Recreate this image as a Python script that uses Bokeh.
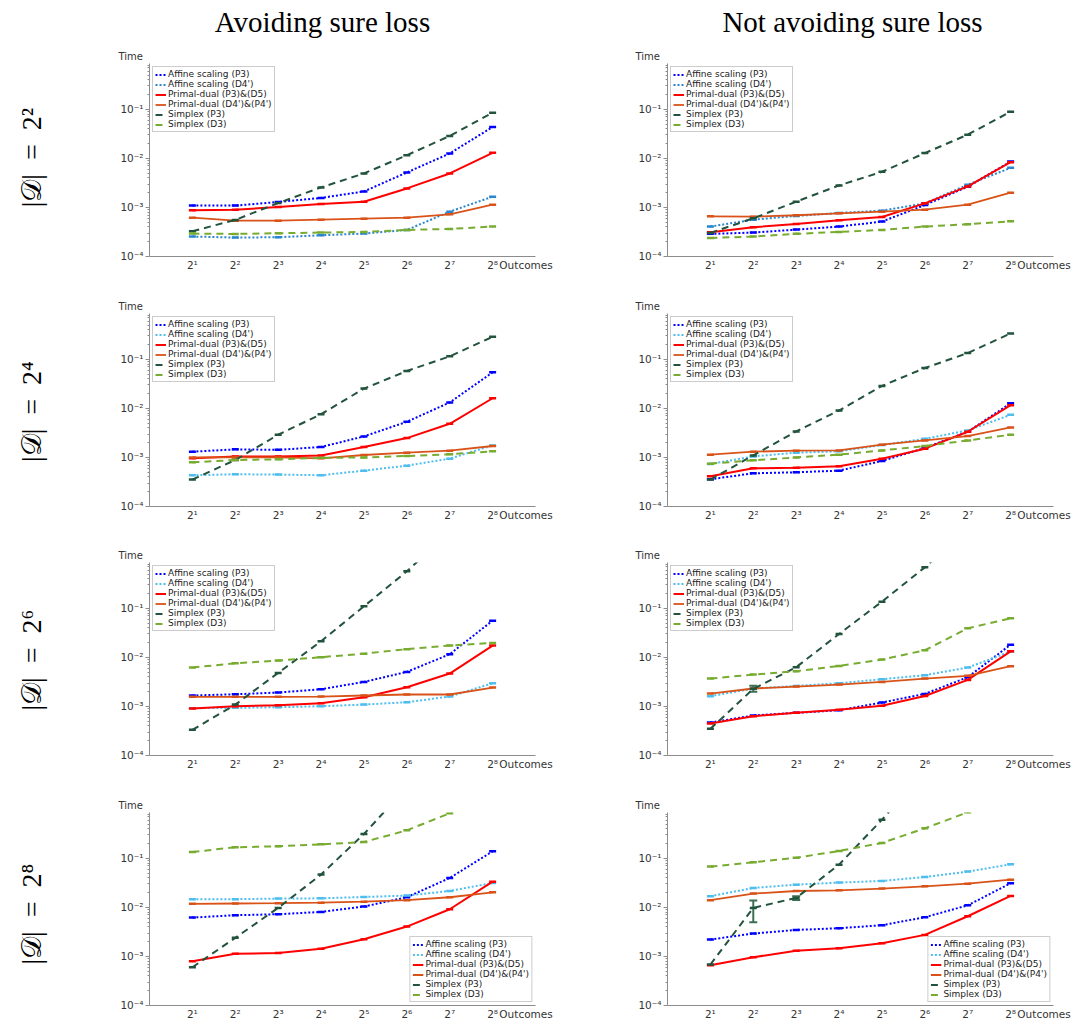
import math
from bokeh.plotting import figure
from bokeh.layouts import column, row
from bokeh.models import (FixedTicker, Legend, LegendItem, Range1d, Title,
                          ColumnDataSource, Whisker, TeeHead)
from bokeh.core.properties import value
from bokeh.embed import file_html
from bokeh.resources import INLINE

# ---------------- data ----------------
outcomes = [2, 4, 8, 16, 32, 64, 128, 256]
x_tick_labels = ["2¹", "2²", "2³", "2⁴", "2⁵", "2⁶", "2⁷", "2⁸"]
x_axis_name = "Outcomes"
y_axis_name = "Time"
y_ticks = [1e-4, 1e-3, 1e-2, 1e-1]
y_tick_labels = ["10⁻⁴", "10⁻³", "10⁻²", "10⁻¹"]
series_names = ["Affine scaling (P3)", "Affine scaling (D4')", "Primal-dual (P3)&(D5)",
                "Primal-dual (D4')&(P4')", "Simplex (P3)", "Simplex (D3)"]
col_titles = ["Avoiding sure loss", "Not avoiding sure loss"]
row_labels = ["|𝒟|\u2002=\u20022²", "|𝒟|\u2002=\u20022⁴", "|𝒟|\u2002=\u20022⁶", "|𝒟|\u2002=\u20022⁸"]

# Avoiding sure loss, |D| = 2^2
a2_aff_p3 = [1.09e-3, 1.09e-3, 1.29e-3, 1.56e-3, 2.12e-3, 5.16e-3, 1.26e-2, 4.36e-2]
a2_aff_d4 = [2.55e-4, 2.43e-4, 2.47e-4, 2.71e-4, 2.93e-4, 3.48e-4, 8.2e-4, 1.66e-3]
a2_pd_p3 = [8.73e-4, 9.0e-4, 1.02e-3, 1.17e-3, 1.31e-3, 2.44e-3, 4.93e-3, 1.30e-2]
a2_pd_d4 = [6.19e-4, 5.38e-4, 5.38e-4, 5.64e-4, 5.91e-4, 6.19e-4, 7.24e-4, 1.14e-3]
a2_sx_p3 = [3.27e-4, 5.56e-4, 1.23e-3, 2.56e-3, 4.93e-3, 1.16e-2, 2.87e-2, 8.55e-2]
a2_sx_d3 = [2.93e-4, 2.88e-4, 2.98e-4, 3.07e-4, 3.17e-4, 3.48e-4, 3.65e-4, 4.07e-4]

# Not avoiding sure loss, |D| = 2^2
n2_aff_p3 = [2.89e-4, 3.07e-4, 3.53e-4, 4.07e-4, 5.14e-4, 1.12e-3, 2.64e-3, 8.64e-3]
n2_aff_d4 = [4.07e-4, 5.64e-4, 6.7e-4, 7.71e-4, 8.6e-4, 1.21e-3, 2.9e-3, 6.42e-3]
n2_pd_p3 = [3.12e-4, 3.94e-4, 4.61e-4, 5.47e-4, 6.4e-4, 1.21e-3, 2.68e-3, 8.37e-3]
n2_pd_d4 = [6.59e-4, 6.48e-4, 6.92e-4, 7.59e-4, 8.2e-4, 9.0e-4, 1.14e-3, 2.0e-3]
n2_sx_p3 = [3.02e-4, 6.0e-4, 1.31e-3, 2.81e-3, 5.33e-3, 1.28e-2, 3.05e-2, 8.95e-2]
n2_sx_d3 = [2.39e-4, 2.55e-4, 2.89e-4, 3.17e-4, 3.48e-4, 4.07e-4, 4.54e-4, 5.22e-4]

# Avoiding sure loss, |D| = 2^4
a4_aff_p3 = [1.31e-3, 1.46e-3, 1.43e-3, 1.63e-3, 2.68e-3, 5.33e-3, 1.32e-2, 5.43e-2]
a4_aff_d4 = [4.33e-4, 4.54e-4, 4.47e-4, 4.33e-4, 5.38e-4, 6.8e-4, 9.44e-4, 1.76e-3]
a4_pd_p3 = [9.59e-4, 1.04e-3, 1.04e-3, 1.10e-3, 1.63e-3, 2.48e-3, 4.85e-3, 1.61e-2]
a4_pd_d4 = [1.0e-3, 1.0e-3, 1.0e-3, 9.6e-4, 1.12e-3, 1.25e-3, 1.37e-3, 1.71e-3]
a4_sx_p3 = [3.53e-4, 8.87e-4, 2.9e-3, 7.62e-3, 2.53e-2, 5.78e-2, 1.15e-1, 2.88e-1]
a4_sx_d3 = [7.94e-4, 8.87e-4, 9.15e-4, 9.8e-4, 1.0e-3, 1.07e-3, 1.16e-3, 1.33e-3]

# Not avoiding sure loss, |D| = 2^4
n4_aff_p3 = [3.59e-4, 4.75e-4, 4.98e-4, 5.38e-4, 8.47e-4, 1.56e-3, 3.34e-3, 1.27e-2]
n4_aff_d4 = [7.35e-4, 1.05e-3, 1.25e-3, 1.33e-3, 1.79e-3, 2.4e-3, 3.55e-3, 7.39e-3]
n4_pd_p3 = [4.13e-4, 6.0e-4, 6.19e-4, 6.59e-4, 9.44e-4, 1.51e-3, 3.34e-3, 1.16e-2]
n4_pd_d4 = [1.14e-3, 1.31e-3, 1.37e-3, 1.39e-3, 1.82e-3, 2.22e-3, 2.72e-3, 4.09e-3]
n4_sx_p3 = [3.53e-4, 1.10e-3, 3.39e-3, 9.05e-3, 2.87e-2, 6.65e-2, 1.34e-1, 3.37e-1]
n4_sx_d3 = [7.47e-4, 8.73e-4, 1.0e-3, 1.14e-3, 1.39e-3, 1.71e-3, 2.22e-3, 2.9e-3]

# Avoiding sure loss, |D| = 2^6
a6_aff_p3 = [1.67e-3, 1.77e-3, 1.92e-3, 2.24e-3, 3.16e-3, 5.06e-3, 1.16e-2, 5.61e-2]
a6_aff_d4 = [9.2e-4, 9.35e-4, 9.64e-4, 1.01e-3, 1.09e-3, 1.22e-3, 1.59e-3, 2.97e-3]
a6_pd_p3 = [9.06e-4, 1.01e-3, 1.06e-3, 1.16e-3, 1.54e-3, 2.46e-3, 4.68e-3, 1.74e-2]
a6_pd_d4 = [1.57e-3, 1.57e-3, 1.57e-3, 1.59e-3, 1.67e-3, 1.75e-3, 1.75e-3, 2.43e-3]
a6_sx_p3 = [3.33e-4, 1.09e-3, 4.83e-3, 2.13e-2, 1.10e-1, 5.68e-1, 3.6, 25.0]
a6_sx_d3 = [6.2e-3, 7.6e-3, 8.6e-3, 1.01e-2, 1.19e-2, 1.47e-2, 1.74e-2, 1.97e-2]

# Not avoiding sure loss, |D| = 2^6
n6_aff_p3 = [4.70e-4, 6.53e-4, 7.4e-4, 8.38e-4, 1.2e-3, 1.8e-3, 3.94e-3, 1.82e-2]
n6_aff_d4 = [1.62e-3, 2.32e-3, 2.62e-3, 2.97e-3, 3.59e-3, 4.33e-3, 6.2e-3, 1.31e-2]
n6_pd_p3 = [4.48e-4, 6.32e-4, 7.4e-4, 8.51e-4, 1.03e-3, 1.63e-3, 3.47e-3, 1.33e-2]
n6_pd_d4 = [1.83e-3, 2.32e-3, 2.54e-3, 2.79e-3, 3.16e-3, 3.7e-3, 4.2e-3, 6.6e-3]
n6_sx_p3 = [3.49e-4, 2.28e-3, 6.3e-3, 3.0e-2, 1.37e-1, 6.85e-1, 4.0, 25.0]
n6_sx_d3 = [3.7e-3, 4.46e-3, 5.22e-3, 6.7e-3, 9.02e-3, 1.40e-2, 3.92e-2, 6.27e-2]
n6_err_x = [4]
n6_err_lo = [2.0e-3]
n6_err_hi = [2.65e-3]

# Avoiding sure loss, |D| = 2^8
a8_aff_p3 = [6.2e-3, 6.92e-3, 7.25e-3, 8.09e-3, 1.04e-2, 1.61e-2, 3.98e-2, 1.39e-1]
a8_aff_d4 = [1.47e-2, 1.47e-2, 1.51e-2, 1.53e-2, 1.63e-2, 1.74e-2, 2.16e-2, 3.15e-2]
a8_pd_p3 = [8.0e-4, 1.13e-3, 1.18e-3, 1.43e-3, 2.24e-3, 4.06e-3, 9.16e-3, 3.35e-2]
a8_pd_d4 = [1.18e-2, 1.2e-2, 1.22e-2, 1.25e-2, 1.31e-2, 1.40e-2, 1.61e-2, 2.03e-2]
a8_sx_p3 = [6.03e-4, 2.39e-3, 9.76e-3, 4.66e-2, 3.13e-1, 2.8, 30.0, 300.0]
a8_sx_d3 = [1.35e-1, 1.68e-1, 1.76e-1, 1.93e-1, 2.15e-1, 3.72e-1, 8.3e-1, 5.0]

# Not avoiding sure loss, |D| = 2^8
n8_aff_p3 = [2.21e-3, 2.93e-3, 3.47e-3, 3.76e-3, 4.33e-3, 6.3e-3, 1.10e-2, 3.1e-2]
n8_aff_d4 = [1.69e-2, 2.49e-2, 2.91e-2, 3.2e-2, 3.46e-2, 4.17e-2, 5.36e-2, 7.56e-2]
n8_pd_p3 = [6.63e-4, 9.64e-4, 1.3e-3, 1.47e-3, 1.86e-3, 2.75e-3, 6.6e-3, 1.71e-2]
n8_pd_d4 = [1.40e-2, 1.91e-2, 2.16e-2, 2.23e-2, 2.42e-2, 2.69e-2, 3.05e-2, 3.68e-2]
n8_sx_p3 = [6.84e-4, 9.76e-3, 1.56e-2, 7.44e-2, 6.14e-1, 6.0, 60.0, 600.0]
n8_sx_d3 = [6.78e-2, 8.3e-2, 1.03e-1, 1.41e-1, 2.06e-1, 4.09e-1, 8.7e-1, 5.0]
n8_err_x = [4, 8]
n8_err_lo = [4.98e-3, 1.42e-2]
n8_err_hi = [1.38e-2, 1.69e-2]

# ---------------- styles ----------------
C_BLUE = "#0000ff"
C_LBLUE = "#4dbeee"
C_LBLUE_ROW1 = "#2a86cf"
C_RED = "#ff0000"
C_ORANGE = "#d95319"
C_DGREEN = "#22533d"
C_LGREEN = "#77ac30"
C_ERR = "#3d6f56"
DOT = "2 2"
DASH = "7 5"
AXIS_GRAY = "#8c8c8c"
TEXT_GRAY = "#333333"
FONT = "DejaVu Sans"
SERIF = "Liberation Serif"

FW, FH = 386, 193
Y_END = 0.86
minor_y = [k * 10.0 ** e for e in range(-4, 0) for k in range(2, 10)]
minor_y = [v for v in minor_y if v < Y_END]

LABEL_W = 60
TITLE_H = 42
TOP_B = [21, 30, 30, 30]
BOT_B = [27, 26, 27, 16]
# x position (data) at which the x-axis name is centred, just right of the last tick
X_NAME_POS = outcomes[-1] * 2 ** 0.78


def blank_fig(w, h):
    f = figure(width=w, height=h, x_range=Range1d(0, w), y_range=Range1d(0, h),
               output_backend="svg", toolbar_location=None, min_border=0)
    f.axis.visible = False
    f.grid.visible = False
    f.outline_line_color = None
    f.background_fill_color = "white"
    f.border_fill_color = "white"
    return f


def make_panel(r, c, data, err=None):
    p = figure(x_axis_type="log", y_axis_type="log", frame_width=FW, frame_height=FH,
               x_range=Range1d(1, 512), y_range=Range1d(0.999e-4, Y_END),
               output_backend="svg", toolbar_location=None,
               min_border_left=89 if c == 0 else 112,
               min_border_right=20 if c == 0 else 18,
               min_border_top=TOP_B[r], min_border_bottom=BOT_B[r])
    p.outline_line_color = None
    p.grid.visible = False
    p.background_fill_color = "white"
    p.border_fill_color = "white"

    xa = p.xaxis[0]
    xa.ticker = FixedTicker(ticks=outcomes + [X_NAME_POS], minor_ticks=[])
    ov = {o: l for o, l in zip(outcomes, x_tick_labels)}
    ov[X_NAME_POS] = x_axis_name
    xa.major_label_overrides = ov
    xa.major_tick_in = 0
    xa.major_tick_out = 0
    xa.minor_tick_in = 0
    xa.minor_tick_out = 0
    xa.major_label_standoff = 2

    ya = p.yaxis[0]
    ya.ticker = FixedTicker(ticks=y_ticks, minor_ticks=minor_y)
    ya.major_label_overrides = {t: l for t, l in zip(y_ticks, y_tick_labels)}
    ya.major_tick_in = 0
    ya.major_tick_out = 4
    ya.minor_tick_in = 0
    ya.minor_tick_out = 2
    ya.major_label_standoff = 2

    for ax in (xa, ya):
        ax.axis_line_color = AXIS_GRAY
        ax.major_tick_line_color = AXIS_GRAY
        ax.minor_tick_line_color = AXIS_GRAY
        ax.major_label_text_color = TEXT_GRAY
        ax.major_label_text_font = FONT
        ax.major_label_text_font_size = "10.5px"

    lblue = C_LBLUE_ROW1 if r == 0 else C_LBLUE
    styles = [
        (C_BLUE, DOT, 2.0),
        (lblue, DOT, 2.0),
        (C_RED, "solid", 2.0),
        (C_ORANGE, "solid", 1.8),
        (C_DGREEN, DASH, 2.0),
        (C_LGREEN, DASH, 2.0),
    ]
    items = []
    for name, vals, (color, dash, lw) in zip(series_names, data, styles):
        ln = p.line(outcomes, vals, line_color=color, line_dash=dash, line_width=lw)
        p.scatter(outcomes, vals, marker="dash", size=7, line_color=color, line_width=2.5)
        items.append(LegendItem(label=name, renderers=[ln]))

    if err is not None:
        ex, elo, ehi = err
        src = ColumnDataSource(dict(base=ex, lower=elo, upper=ehi))
        w = Whisker(source=src, base="base", lower="lower", upper="upper",
                    line_color=C_ERR, line_width=2,
                    upper_head=TeeHead(size=8, line_color=C_ERR, line_width=2),
                    lower_head=TeeHead(size=8, line_color=C_ERR, line_width=2))
        p.add_layout(w)

    legend = Legend(items=items, location="bottom_right" if r == 3 else "top_left")
    legend.label_text_font = FONT
    legend.label_text_font_size = "9px"
    legend.label_text_color = "#222222"
    legend.label_height = 9
    legend.glyph_height = 9
    legend.glyph_width = 11
    legend.label_standoff = 2
    legend.spacing = 0
    legend.padding = 2
    legend.margin = 3
    legend.border_line_color = "#999999"
    legend.background_fill_alpha = 1.0
    p.add_layout(legend)

    p.add_layout(Title(text=y_axis_name, align="left", offset=-31 if c == 0 else -32,
                       standoff=4, text_font=FONT, text_font_size="10px",
                       text_font_style="normal", text_color=TEXT_GRAY), "above")
    return p


panels_data = [
    ([a2_aff_p3, a2_aff_d4, a2_pd_p3, a2_pd_d4, a2_sx_p3, a2_sx_d3], None,
     [n2_aff_p3, n2_aff_d4, n2_pd_p3, n2_pd_d4, n2_sx_p3, n2_sx_d3], None),
    ([a4_aff_p3, a4_aff_d4, a4_pd_p3, a4_pd_d4, a4_sx_p3, a4_sx_d3], None,
     [n4_aff_p3, n4_aff_d4, n4_pd_p3, n4_pd_d4, n4_sx_p3, n4_sx_d3], None),
    ([a6_aff_p3, a6_aff_d4, a6_pd_p3, a6_pd_d4, a6_sx_p3, a6_sx_d3], None,
     [n6_aff_p3, n6_aff_d4, n6_pd_p3, n6_pd_d4, n6_sx_p3, n6_sx_d3],
     (n6_err_x, n6_err_lo, n6_err_hi)),
    ([a8_aff_p3, a8_aff_d4, a8_pd_p3, a8_pd_d4, a8_sx_p3, a8_sx_d3], None,
     [n8_aff_p3, n8_aff_d4, n8_pd_p3, n8_pd_d4, n8_sx_p3, n8_sx_d3],
     (n8_err_x, n8_err_lo, n8_err_hi)),
]

# column titles
TOTAL_W = LABEL_W + (89 + FW + 20) + (112 + FW + 18)
title_fig = blank_fig(TOTAL_W, TITLE_H)
title_fig.text(x=[322, 852], y=[TITLE_H - 21, TITLE_H - 21], text=col_titles,
               text_align="center", text_baseline="middle",
               text_font=value(SERIF), text_font_size="29px", text_color="black")

rows = [title_fig]
for r, (dl, el, dr, er) in enumerate(panels_data):
    h = TOP_B[r] + FH + BOT_B[r]
    lab = blank_fig(LABEL_W, h)
    lab.text(x=[31], y=[h - TOP_B[r] - FH / 2], text=[row_labels[r]], angle=math.pi / 2,
             text_align="center", text_baseline="middle",
             text_font=value(SERIF), text_font_size="28px", text_color="black")
    rows.append(row(lab, make_panel(r, 0, dl, el), make_panel(r, 1, dr, er)))

layout = column(*rows)
open("out.html", "w").write(file_html(layout, INLINE))
